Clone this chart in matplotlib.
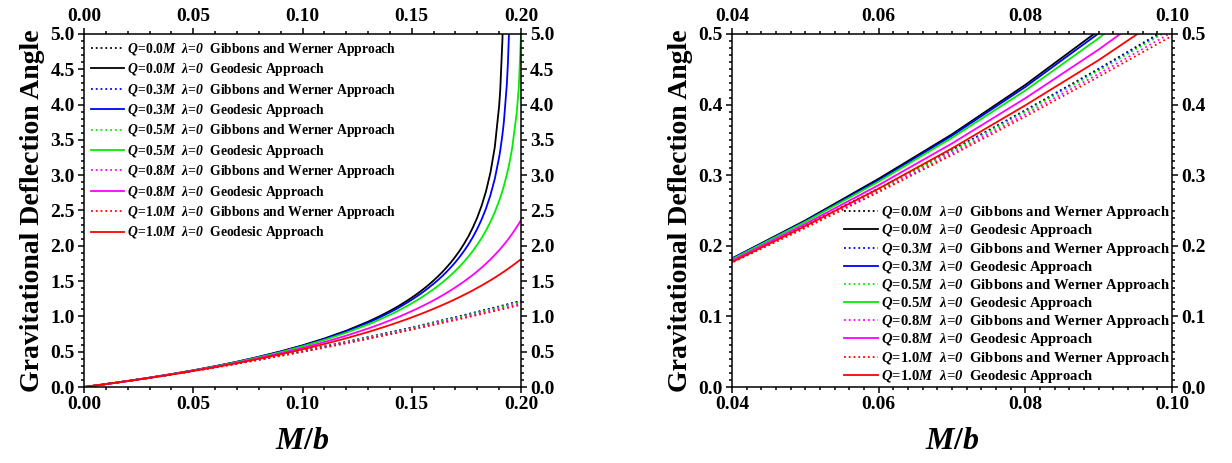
import matplotlib
matplotlib.use("Agg")
import matplotlib.pyplot as plt
import matplotlib.ticker as ticker

plt.rcParams['font.family'] = 'Liberation Serif'
plt.rcParams['font.weight'] = 'bold'
plt.rcParams['axes.labelweight'] = 'bold'
plt.rcParams['mathtext.fontset'] = 'custom'
plt.rcParams['mathtext.rm'] = 'Liberation Serif:bold'
plt.rcParams['mathtext.it'] = 'Liberation Serif:italic:bold'
plt.rcParams['mathtext.sf'] = 'Liberation Serif:italic'

# M/b grid for the geodesic curves (denser near the divergence)
mb_geo = [0.00, 0.01, 0.02, 0.03, 0.04, 0.05, 0.06, 0.07, 0.08, 0.09, 0.10,
          0.11, 0.12, 0.13,
          0.132, 0.134, 0.136, 0.138, 0.140, 0.142, 0.144, 0.146, 0.148, 0.150,
          0.152, 0.154, 0.156, 0.158, 0.160, 0.162, 0.164, 0.166, 0.168, 0.170,
          0.172, 0.174, 0.176, 0.178, 0.180, 0.182, 0.184, 0.186, 0.188,
          0.190, 0.1905, 0.1915, 0.192, 0.1922, 0.1935, 0.194, 0.1945, 0.195,
          0.196, 0.198, 0.199, 0.200]
# M/b grid for the Gibbons-Werner curves
mb_gw = [0.00, 0.01, 0.02, 0.03, 0.04, 0.05, 0.06, 0.07, 0.08, 0.09, 0.10,
         0.11, 0.12, 0.13, 0.14, 0.15, 0.16, 0.17, 0.18, 0.19, 0.20]

charges = ['0.0', '0.3', '0.5', '0.8', '1.0']
colors = ['black', '#0000FF', '#00EE00', '#FF00FF', '#FF0000']

geo_q00 = [0, 0.041, 0.085, 0.132, 0.182, 0.236, 0.295, 0.358, 0.428, 0.505, 0.590,
           0.687, 0.797, 0.925,
           0.954, 0.983, 1.014, 1.045, 1.078, 1.112, 1.148, 1.186, 1.225, 1.266,
           1.309, 1.355, 1.403, 1.454, 1.509, 1.567, 1.629, 1.696, 1.768, 1.848,
           1.934, 2.031, 2.138, 2.261, 2.402, 2.570, 2.774, 3.035, 3.396,
           3.982, 4.207, 4.919, 5.662]
geo_q03 = [0, 0.041, 0.085, 0.132, 0.182, 0.235, 0.293, 0.356, 0.425, 0.501, 0.585,
           0.679, 0.787, 0.911,
           0.938, 0.966, 0.996, 1.026, 1.058, 1.090, 1.124, 1.160, 1.197, 1.236,
           1.277, 1.319, 1.364, 1.412, 1.462, 1.515, 1.572, 1.633, 1.699, 1.769,
           1.846, 1.930, 2.022, 2.125, 2.242, 2.375, 2.530, 2.716, 2.948,
           3.256, 3.351, 3.574, 3.709, 3.769, 4.280, 4.579, 5.009, 5.779]
geo_q05 = [0, 0.041, 0.085, 0.131, 0.181, 0.234, 0.291, 0.353, 0.420, 0.494, 0.576,
           0.666, 0.769, 0.886,
           0.911, 0.938, 0.965, 0.993, 1.022, 1.052, 1.084, 1.116, 1.150, 1.185,
           1.222, 1.260, 1.300, 1.342, 1.386, 1.432, 1.481, 1.533, 1.588, 1.647,
           1.710, 1.777, 1.850, 1.929, 2.016, 2.111, 2.218, 2.338, 2.476,
           2.637, 2.682, 2.778, 2.830, 2.852, 3.006, 3.072, 3.143, 3.220,
           3.394, 3.875, 4.243, 5.000]
geo_q08 = [0, 0.041, 0.084, 0.130, 0.179, 0.231, 0.286, 0.345, 0.409, 0.478, 0.553,
           0.636, 0.727, 0.828,
           0.850, 0.873, 0.895, 0.919, 0.943, 0.968, 0.993, 1.020, 1.047, 1.075,
           1.103, 1.133, 1.164, 1.195, 1.228, 1.262, 1.297, 1.334, 1.372, 1.412,
           1.453, 1.496, 1.542, 1.589, 1.639, 1.692, 1.748, 1.807, 1.870,
           1.937, 1.955, 1.991, 2.010, 2.017, 2.067, 2.087, 2.108, 2.129,
           2.172, 2.264, 2.313, 2.365]
geo_q10 = [0, 0.041, 0.084, 0.129, 0.177, 0.228, 0.281, 0.338, 0.399, 0.463, 0.533,
           0.609, 0.690, 0.779,
           0.798, 0.818, 0.837, 0.857, 0.877, 0.898, 0.920, 0.941, 0.963, 0.986,
           1.009, 1.033, 1.057, 1.082, 1.108, 1.134, 1.161, 1.188, 1.216, 1.245,
           1.275, 1.306, 1.337, 1.370, 1.404, 1.438, 1.474, 1.511, 1.549,
           1.589, 1.599, 1.620, 1.630, 1.634, 1.662, 1.673, 1.684, 1.695,
           1.717, 1.763, 1.787, 1.812]

gw_q00 = [0, 0.0412, 0.0847, 0.1304, 0.1784, 0.2287, 0.2810, 0.3355, 0.3921, 0.4508,
          0.5114, 0.5740, 0.6386, 0.7050, 0.7733, 0.8435, 0.9154, 0.9890, 1.0644,
          1.1414, 1.2200]
gw_q03 = [0, 0.0412, 0.0847, 0.1303, 0.1782, 0.2284, 0.2806, 0.3349, 0.3913, 0.4498,
          0.5101, 0.5725, 0.6368, 0.7029, 0.7708, 0.8407, 0.9122, 0.9854, 1.0603,
          1.1369, 1.2150]
gw_q05 = [0, 0.0412, 0.0846, 0.1301, 0.1778, 0.2278, 0.2797, 0.3338, 0.3899, 0.4480,
          0.5079, 0.5698, 0.6336, 0.6991, 0.7664, 0.8356, 0.9064, 0.9789, 1.0531,
          1.1288, 1.2060]
gw_q08 = [0, 0.0411, 0.0843, 0.1296, 0.1770, 0.2265, 0.2778, 0.3311, 0.3864, 0.4435,
          0.5024, 0.5632, 0.6257, 0.6899, 0.7557, 0.8233, 0.8925, 0.9631, 1.0354,
          1.1091, 1.1842]
gw_q10 = [0, 0.0411, 0.0841, 0.1291, 0.1762, 0.2252, 0.2760, 0.3286, 0.3831, 0.4395,
          0.4974, 0.5571, 0.6184, 0.6813, 0.7459, 0.8120, 0.8796, 0.9485, 1.0190,
          1.0909, 1.1640]

geo = [geo_q00, geo_q03, geo_q05, geo_q08, geo_q10]
gw = [gw_q00, gw_q03, gw_q05, gw_q08, gw_q10]

fig = plt.figure(figsize=(12.32, 4.63), dpi=100)
ax1 = fig.add_axes([84/1232, 76/463, 437/1232, 353/463])
ax2 = fig.add_axes([732/1232, 76/463, 440/1232, 353/463])


def draw(ax):
    for q, c, g, w in zip(charges, colors, geo, gw):
        ax.plot(mb_gw, w, color=c, ls=':', lw=1.3,
                label=r'$\mathit{Q\!=\!%sM}$  $\mathsf{\lambda\!=\!0}$  Gibbons and Werner Approach' % q)
        ax.plot(mb_geo[:len(g)], g, color=c, ls='-', lw=1.3,
                label=r'$\mathit{Q\!=\!%sM}$  $\mathsf{\lambda\!=\!0}$  Geodesic Approach' % q)
    ax.set_xlabel(r'$\mathit{M/b}$', fontsize=23, labelpad=10)
    ax.set_ylabel('Gravitational Deflection Angle', fontsize=20, labelpad=4)
    ax.tick_params(which='both', direction='out', top=True, right=True,
                   labeltop=True, labelright=True, labelsize=14, width=1.1, pad=2)
    ax.tick_params(which='major', length=4.5)
    ax.tick_params(which='minor', length=2.5)
    for s in ax.spines.values():
        s.set_linewidth(1.1)


draw(ax1)
ax1.set_xlim(0, 0.2)
ax1.set_ylim(0, 5)
ax1.xaxis.set_major_locator(ticker.MultipleLocator(0.05))
ax1.xaxis.set_minor_locator(ticker.MultipleLocator(0.01))
ax1.yaxis.set_major_locator(ticker.MultipleLocator(0.5))
ax1.yaxis.set_minor_locator(ticker.MultipleLocator(0.1))
ax1.xaxis.set_major_formatter(ticker.FormatStrFormatter('%.2f'))
ax1.yaxis.set_major_formatter(ticker.FormatStrFormatter('%.1f'))
ax1.legend(loc='upper left', frameon=False, fontsize=9.8, handlelength=2.45,
           handletextpad=0.2, labelspacing=0.25, borderpad=0.3, borderaxespad=0.2)

draw(ax2)
ax2.set_xlim(0.04, 0.1)
ax2.set_ylim(0, 0.5)
ax2.xaxis.set_major_locator(ticker.MultipleLocator(0.02))
ax2.xaxis.set_minor_locator(ticker.MultipleLocator(0.002))
ax2.yaxis.set_major_locator(ticker.MultipleLocator(0.1))
ax2.yaxis.set_minor_locator(ticker.MultipleLocator(0.01))
ax2.xaxis.set_major_formatter(ticker.FormatStrFormatter('%.2f'))
ax2.yaxis.set_major_formatter(ticker.FormatStrFormatter('%.1f'))
ax2.legend(loc='lower right', frameon=False, fontsize=10.5, handlelength=2.3,
           handletextpad=0.2, labelspacing=0.08, borderpad=0.1, borderaxespad=0.05)

fig.savefig('out.png', dpi=100)
